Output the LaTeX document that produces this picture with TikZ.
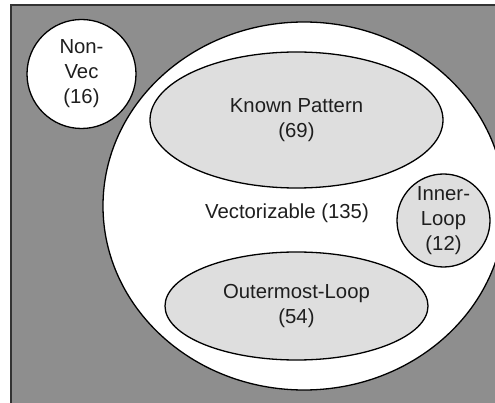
\documentclass[tikz,border=0pt]{standalone}
\usepackage{fontspec}
\setmainfont{Liberation Sans}
\usetikzlibrary{shapes.geometric}
\definecolor{bggray}{HTML}{8E8E8E}
\definecolor{setgray}{HTML}{DEDEDE}
\definecolor{txt}{HTML}{1E1E1E}
\begin{document}
\begin{tikzpicture}[x=1pt,y=-1pt,
  setline/.style={draw=black,line width=1.3pt},
  settext/.style={text=txt,font=\fontsize{20.3}{25}\selectfont,align=center,inner sep=0pt},
  whiteset/.style={setline,fill=white},
  greyset/.style={setline,fill=setgray}]
\useasboundingbox (0,0) rectangle (495,403);
\clip (0,0) rectangle (495,403);
% background universe
\draw[fill=bggray,draw=black!80,line width=2pt] (11,5) rectangle (520,430);
% big vectorizable set
\node[whiteset,ellipse,minimum width=402pt,minimum height=368pt,inner sep=0pt] (vec) at (304,206) {};
\node[settext] (veclabel) at (287,213) {Vectorizable (135)};
% non-vec
\node[whiteset,settext,circle,minimum size=109pt] (nonvec) at (81.5,74) {Non-\\Vec\\(16)};
% known pattern
\node[greyset,settext,ellipse,minimum width=293pt,minimum height=136pt] (known) at (296.5,120) {Known Pattern\\(69)};
% inner loop
\node[greyset,settext,circle,minimum size=93pt] (inner) at (443.5,220.5) {Inner-\\Loop\\(12)};
% outermost loop
\node[greyset,settext,ellipse,minimum width=263pt,minimum height=108pt] (outer) at (296.5,306) {Outermost-Loop\\(54)};
\end{tikzpicture}
\end{document}
